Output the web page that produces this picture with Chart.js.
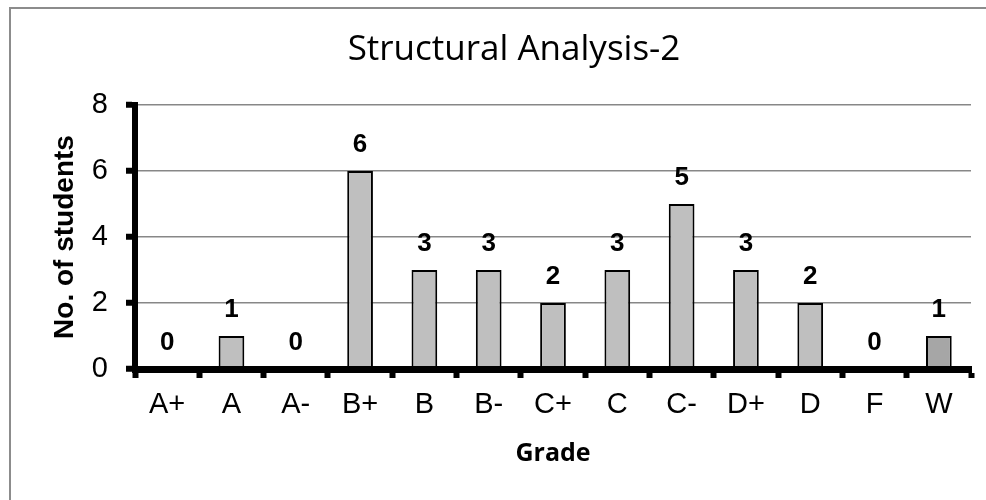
<!DOCTYPE html>
<html>
<head>
<meta charset="utf-8">
<script src="https://cdn.jsdelivr.net/npm/chart.js@4.4.1/dist/chart.umd.min.js"></script>
<style>
  html, body { margin: 0; padding: 0; overflow: hidden; background: #fff; }
  #canvas { position: absolute; left: 0; top: 0; }
</style>
</head>
<body>
<canvas id="canvas" width="1028" height="500"></canvas>
<script>
// grade distribution
let grades = ['A+', 'A', 'A-', 'B+', 'B', 'B-', 'C+', 'C', 'C-', 'D+', 'D', 'F', 'W'];
let students = [0, 1, 0, 6, 3, 3, 2, 3, 5, 3, 2, 0, 1];
let yTicks = [0, 2, 4, 6, 8];

let labelFont = '"Liberation Sans", Arial, sans-serif';
let titleFont = '"Open Sans", "Noto Sans", sans-serif';

// W bar is a shade darker in the original
let barColors = grades.map(g => g === 'W' ? '#a6a6a6' : '#bfbfbf');

// outer chart frame (only top and left edges are inside the picture)
let frame = {
  id: 'frame',
  beforeDraw: function(chart) {
    let ctx = chart.ctx;
    ctx.save();
    ctx.strokeStyle = '#8c8c8c';
    ctx.lineWidth = 2;
    ctx.beginPath();
    ctx.moveTo(10, 600);
    ctx.lineTo(10, 8);
    ctx.lineTo(1200, 8);
    ctx.stroke();
    ctx.restore();
  }
};

let barLabels = {
  id: 'barLabels',
  afterDatasetsDraw: function(chart) {
    let ctx = chart.ctx;
    let meta = chart.getDatasetMeta(0);
    ctx.save();
    ctx.font = 'bold 26px ' + labelFont;
    ctx.fillStyle = '#000';
    ctx.textAlign = 'center';
    ctx.textBaseline = 'middle';
    meta.data.forEach(function(bar, i) {
      ctx.fillText(String(students[i]), bar.x, bar.y - 26);
    });
    ctx.restore();
  }
};

let ctx = document.getElementById('canvas').getContext('2d');

window.my_chart = new Chart(ctx, {
  type: 'bar',
  data: {
    labels: grades,
    datasets: [{
      label: 'No. of students',
      data: students,
      backgroundColor: barColors,
      borderColor: '#000',
      borderWidth: 2,
      barPercentage: 0.4,
      categoryPercentage: 1.0
    }]
  },
  options: {
    responsive: false,
    animation: false,
    layout: { padding: 0 },
    plugins: {
      legend: { display: false },
      tooltip: { enabled: false },
      title: {
        display: true,
        text: 'Structural Analysis-2',
        color: '#000',
        font: { family: titleFont, size: 35, weight: 'normal' },
        padding: { top: 29, bottom: 34 }
      }
    },
    scales: {
      x: {
        ticks: { color: '#000', font: { family: labelFont, size: 29 }, padding: 10,
                 maxRotation: 0, autoSkip: false },
        grid: { drawOnChartArea: false, offset: true, tickLength: 9, tickWidth: 6,
                tickColor: '#000', z: 1 },
        border: { color: '#000', width: 7, z: 1 },
        title: {
          display: true, text: 'Grade', color: '#000',
          font: { family: titleFont, size: 25, weight: 'bold' },
          padding: { top: 0, bottom: 31 }
        },
        afterFit: function(scale) { scale.height = 131; }
      },
      y: {
        min: 0,
        max: 8,
        afterBuildTicks: function(scale) { scale.ticks = yTicks.map(v => ({ value: v })); },
        ticks: { color: '#000', font: { family: labelFont, size: 29 }, padding: 18 },
        grid: { color: '#878787', lineWidth: 1.5, tickLength: 9, tickWidth: 6, tickColor: '#000' },
        border: { color: '#000', width: 6 },
        title: {
          display: true, text: 'No. of students', color: '#000',
          font: { family: labelFont, size: 28, weight: 'bold' },
          padding: { top: 48, bottom: 0 }
        },
        afterFit: function(scale) { scale.width = 135; }
      },
      // empty right-hand box so the title stays centred on the whole chart object
      spacer: {
        type: 'linear',
        position: 'right',
        display: true,
        ticks: { display: false },
        grid: { display: false },
        border: { display: false },
        afterFit: function(scale) { scale.width = 57; }
      }
    }
  },
  plugins: [frame, barLabels]
});
</script>
</body>
</html>
